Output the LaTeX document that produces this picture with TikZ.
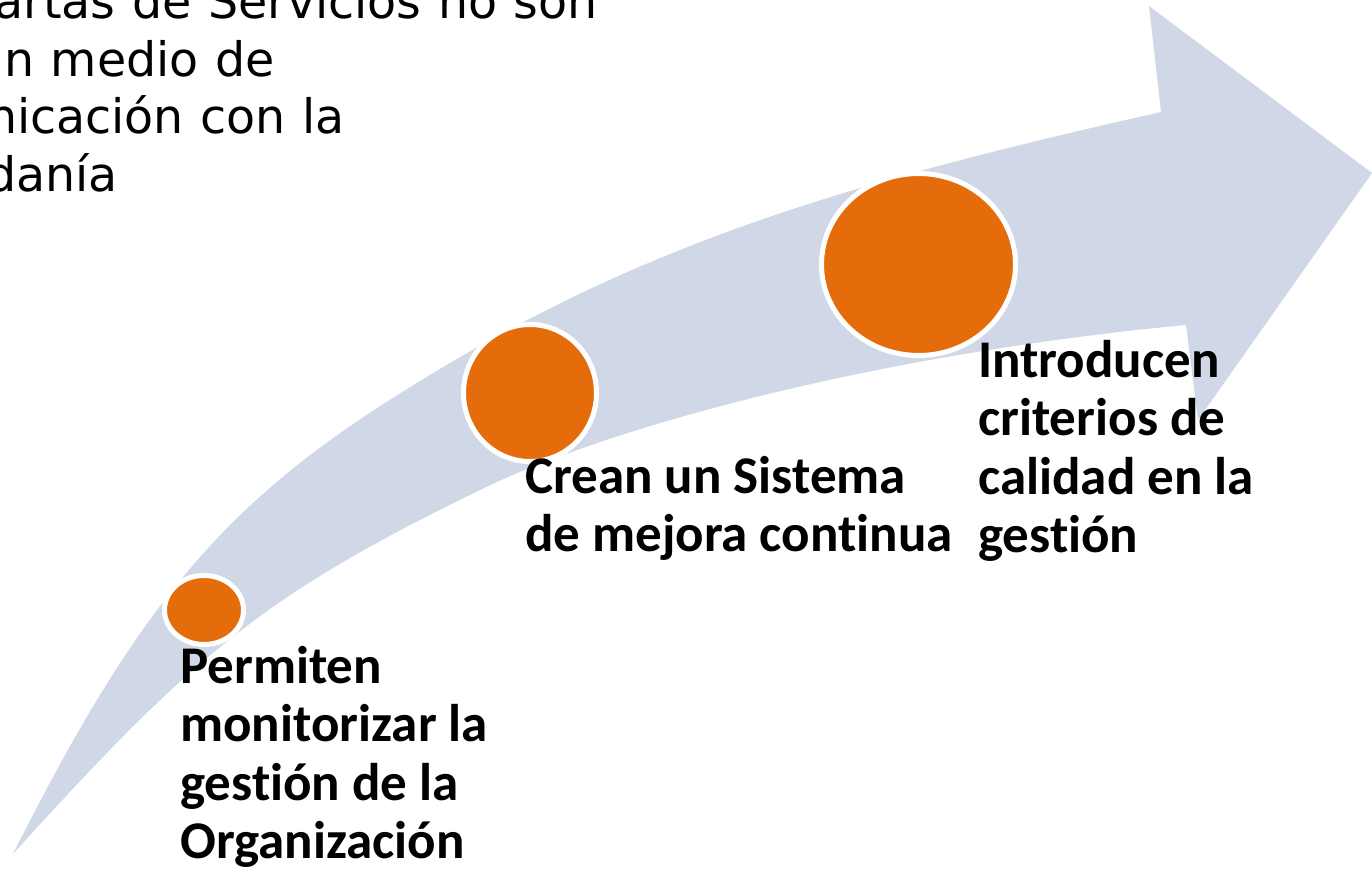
\documentclass[tikz,border=0pt]{standalone}
\usepackage{fontspec}
\usetikzlibrary{shapes.geometric}
\newfontfamily\labfam{Carlito}[Ligatures=NoCommon]
\newfontfamily\topfam{DejaVu Sans}[WordSpace=1.1]
\definecolor{arrowblue}{HTML}{D0D8E8}
\definecolor{dotorange}{HTML}{E46C0A}
\tikzset{
  dot/.style={ellipse, fill=dotorange, draw=white, line width=5pt, inner sep=0pt},
  lab/.style={anchor=base west, align=left, inner sep=0pt, font=\labfam\bfseries\fontsize{53}{58.5}\selectfont},
  topline/.style={anchor=base east, inner sep=0pt, font=\topfam\fontsize{47.5}{58}\selectfont}
}
\begin{document}
\begin{tikzpicture}[x=1pt,y=-1pt]
\useasboundingbox (0,0) rectangle (1372,870);
\clip (0,0) rectangle (1372,870);
\fill[white] (0,0) rectangle (1372,870);
% curved arrow
\fill[arrowblue] (13,854) .. controls (152,577) and (243,485) .. (450,363)
  .. controls (665,236) and (868,178) .. (1161,112)
  -- (1149,6) -- (1372,173) -- (1198,420) -- (1186,325)
  .. controls (887,353) and (615,424) .. (480,490)
  .. controls (264,595) and (194,654) .. (13,854) -- cycle;
% circles
\node[dot, minimum width=79pt, minimum height=69pt] (c1) at (204,610) {};
\node[dot, minimum width=133pt, minimum height=137pt] (c2) at (530,393) {};
\node[dot, minimum width=194pt, minimum height=182pt] (c3) at (918.5,264.5) {};
% labels (anchor = baseline of last line)
\node[lab] (l1) at (180,858.5) {Permiten\\monitorizar la\\gestión de la\\Organización};
\node[lab] (l2) at (525,551.5) {Crean un Sistema\\de mejora continua};
\node[lab] (l3) at (978,552.5) {Introducen\\criterios de\\calidad en la\\gestión};
% text clipped at the left edge
\node[topline] (t1) at (598,18) {Cartas de Servicios no son};
\node[topline] (t2) at (275,76) {un medio de};
\node[topline] (t3) at (345,133) {comunicación con la};
\node[topline] (t4) at (118,191) {ciudadanía};
\end{tikzpicture}
\end{document}
